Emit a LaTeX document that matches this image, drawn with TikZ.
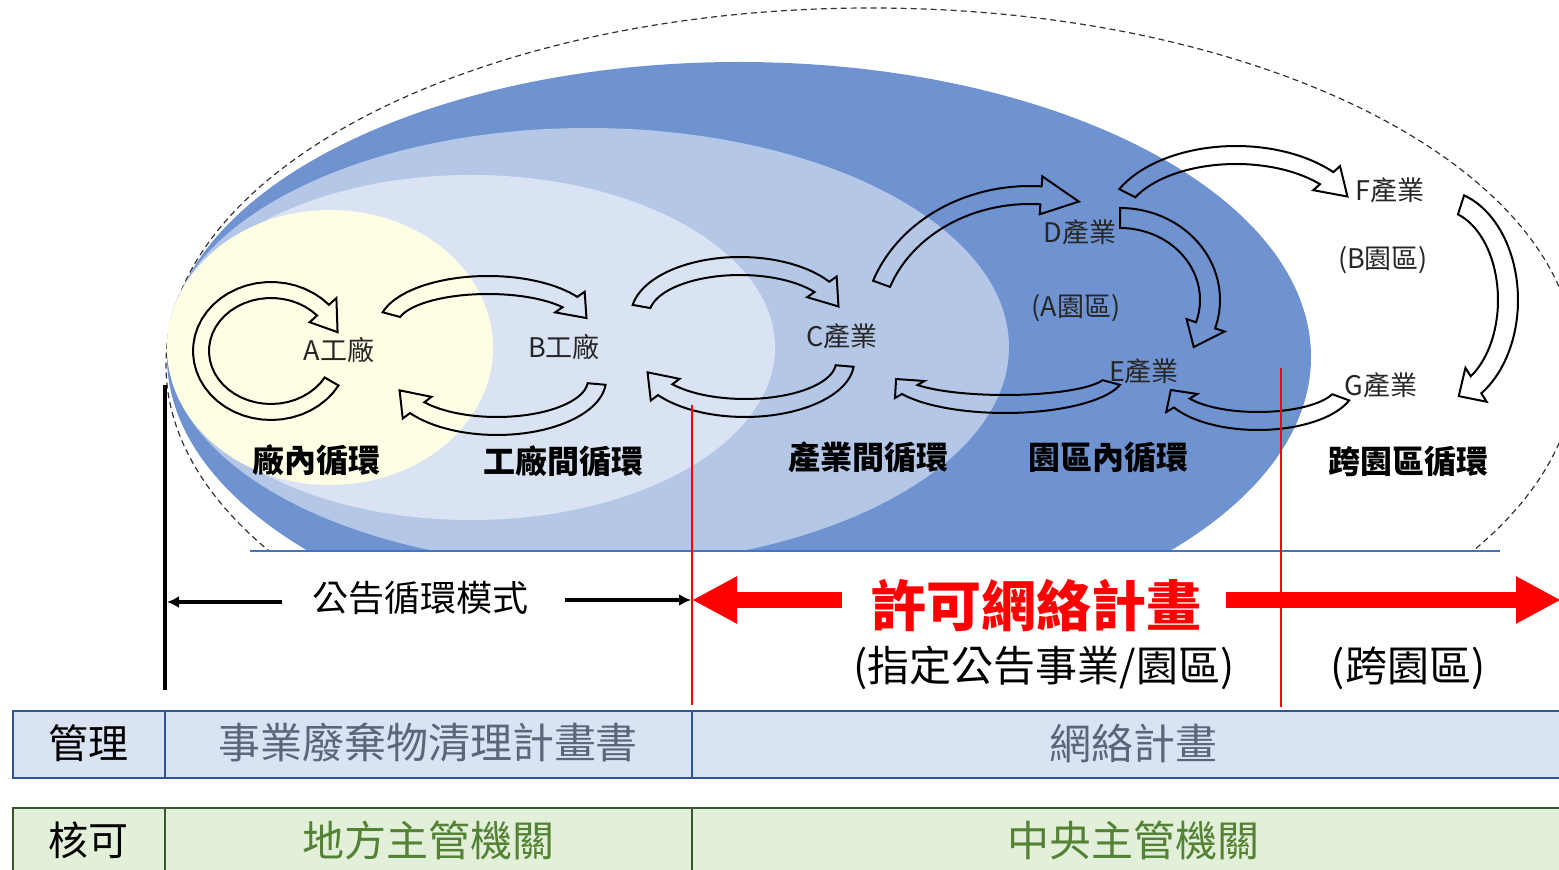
\documentclass[tikz,border=0pt]{standalone}
\usepackage{fontspec}
\setmainfont{Noto Sans CJK TC}
\usetikzlibrary{arrows.meta}
\definecolor{dkblue}{HTML}{6F93D1}
\definecolor{ltblue}{HTML}{B4C7E7}
\definecolor{llblue}{HTML}{DAE3F3}
\definecolor{ylw}{HTML}{FEFEE4}
\definecolor{lineblue}{HTML}{4472C4}
\definecolor{tblborder}{HTML}{2F5597}
\definecolor{grnfill}{HTML}{E2F0D9}
\definecolor{grnborder}{HTML}{38572A}
\definecolor{grntext}{HTML}{548235}
\definecolor{graytext}{HTML}{5C6678}
\definecolor{pred}{HTML}{FF0000}
% curved block arrow: cx, cy, rx, ry, t0 (tail), t1 (head base), te (tip), half width, head extension
\newcommand\cbarrow[9]{%
  \draw[blockarr] plot[domain=#5:#6,samples=40,variable=\t] ({#1+(#3+#8)*cos(\t)},{#2+(#4+#8)*sin(\t)})
   -- ({#1+(#3+#8+#9)*cos(#6)},{#2+(#4+#8+#9)*sin(#6)})
   -- ({#1+#3*cos(#7)},{#2+#4*sin(#7)})
   -- ({#1+(#3-#8-#9)*cos(#6)},{#2+(#4-#8-#9)*sin(#6)})
   -- plot[domain=#6:#5,samples=40,variable=\t] ({#1+(#3-#8)*cos(\t)},{#2+(#4-#8)*sin(\t)})
   -- cycle;}
\tikzset{
  blockarr/.style={draw=black, line width=1pt, line join=miter},
  lbl/.style={inner sep=0pt, text=black!85, font=\fontsize{13.5pt}{15pt}\selectfont},
  cyc/.style={inner sep=0pt, font=\fontsize{16pt}{18pt}\selectfont\bfseries},
  note/.style={inner sep=0pt, font=\fontsize{18pt}{21pt}\selectfont},
  sub/.style={inner sep=0pt, font=\fontsize{21pt}{24pt}\selectfont},
  redtitle/.style={inner sep=0pt, text=pred, font=\fontsize{27.5pt}{30pt}\selectfont\bfseries},
  redarrow/.style={draw=pred, line width=8pt, -{Triangle[length=22.5pt,width=22pt]}},
  blkarrow/.style={draw=black, line width=1.6pt, -{Latex[length=6pt,width=6pt]}},
  row1/.style={draw=tblborder, fill=llblue, line width=1.2pt},
  row2/.style={draw=grnborder, fill=grnfill, line width=1.2pt},
  cellhead/.style={inner sep=0pt, font=\fontsize{20pt}{23pt}\selectfont},
  cellblue/.style={inner sep=0pt, text=graytext, font=\fontsize{21pt}{24pt}\selectfont},
  cellgreen/.style={inner sep=0pt, text=grntext, font=\fontsize{21pt}{24pt}\selectfont},
}
\begin{document}
\begin{tikzpicture}[x=0.5pt,y=-0.5pt]
\useasboundingbox (0,0) rectangle (1559,870);
% nested ellipses
\begin{scope}
  \clip (0,0) rectangle (1559,551);
  \draw[black!80, line width=0.6pt, dash pattern=on 3pt off 2pt] (871,365) ellipse [x radius=705, y radius=357];
  \fill[dkblue] (739,357) ellipse [x radius=572, y radius=295];
  \fill[ltblue] (588,347) ellipse [x radius=421, y radius=219];
  \fill[llblue] (471,347.5) ellipse [x radius=304, y radius=172.5];
  \fill[ylw] (330,347.5) ellipse [x radius=163, y radius=137.5];
\end{scope}
\draw[lineblue, line width=1pt] (250,551) -- (1500,551);
% block arrows
\cbarrow{271}{351}{70}{61}{30}{318}{342}{8}{10}
\cbarrow{488}{325}{100}{40}{195}{325}{350}{9}{9}
\cbarrow{497}{380}{100}{46}{5}{143}{167}{9}{9}
\cbarrow{740}{315}{100}{49}{190}{325}{350}{9}{9}
\cbarrow{745}{362}{100}{46}{5}{143}{167}{9}{9}
\cbarrow{1030}{330}{158}{135}{200}{274}{288}{9}{10}
\cbarrow{1236}{225}{122}{70}{207}{318}{336}{9}{9}
\cbarrow{1120}{300}{90}{82}{270}{378}{395}{10}{10}
\cbarrow{1440}{300}{68}{100}{-72}{58}{74}{10}{10}
\cbarrow{1258}{385}{88}{36}{20}{150}{172}{9}{9}
\cbarrow{1005}{375}{110}{29}{15}{150}{172}{9}{8}
% labels
\node[lbl] (A) at (339,350) {A工廠};
\node[lbl] (B) at (564,347) {B工廠};
\node[lbl] (C) at (842,336) {C產業};
\node[lbl] (D) at (1080,232) {D產業};
\node[lbl] (Apark) at (1076,308) {(A園區)};
\node[lbl] (E) at (1144,371) {E產業};
\node[lbl] (F) at (1390,190) {F產業};
\node[lbl] (Bpark) at (1383,260) {(B園區)};
\node[lbl] (G) at (1381,385) {G產業};
\node[cyc] (c1) at (316,460) {廠內循環};
\node[cyc] (c2) at (563,461) {工廠間循環};
\node[cyc] (c3) at (868,457) {產業間循環};
\node[cyc] (c4) at (1108,457) {園區內循環};
\node[cyc] (c5) at (1408,461) {跨園區循環};
% separators
\draw[black, line width=1.6pt] (165,385) -- (165,690);
\draw[pred, line width=1.4pt] (692,405) -- (692,705);
\draw[pred, line width=1.4pt] (1281,368) -- (1281,707);
% announcement arrows
\node[note] (gg) at (420,598) {公告循環模式};
\coordinate (gLs) at (282,602);
\coordinate (gL) at (167,602);
\coordinate (gRs) at (565,600);
\coordinate (gR) at (691,600);
\draw[blkarrow] (gLs) -- (gL);
\draw[blkarrow] (gRs) -- (gR);
% permit network arrows
\node[redtitle] (rt) at (1036,605) {許可網絡計畫};
\coordinate (rLs) at (842,600);
\coordinate (rL) at (692,600);
\coordinate (rRs) at (1226,600);
\coordinate (rR) at (1561,600);
\draw[redarrow] (rLs) -- (rL);
\draw[redarrow] (rRs) -- (rR);
\node[sub] (s1) at (1044,668) {(指定公告事業/園區)};
\node[sub] (s2) at (1408,668) {(跨園區)};
% table
\draw[row1] (13,711) rectangle (165,778);
\draw[row1] (165,711) rectangle (692,778);
\draw[row1] (692,711) rectangle (1566,778);
\draw[row2] (13,808) rectangle (165,880);
\draw[row2] (165,808) rectangle (692,880);
\draw[row2] (692,808) rectangle (1566,880);
\node[cellhead] (m1) at (88,743) {管理};
\node[cellblue] (m2) at (428,743) {事業廢棄物清理計畫書};
\node[cellblue] (m3) at (1133,743) {網絡計畫};
\node[cellhead] (k1) at (88,840) {核可};
\node[cellgreen] (k2) at (428,840) {地方主管機關};
\node[cellgreen] (k3) at (1133,840) {中央主管機關};
\end{tikzpicture}
\end{document}
